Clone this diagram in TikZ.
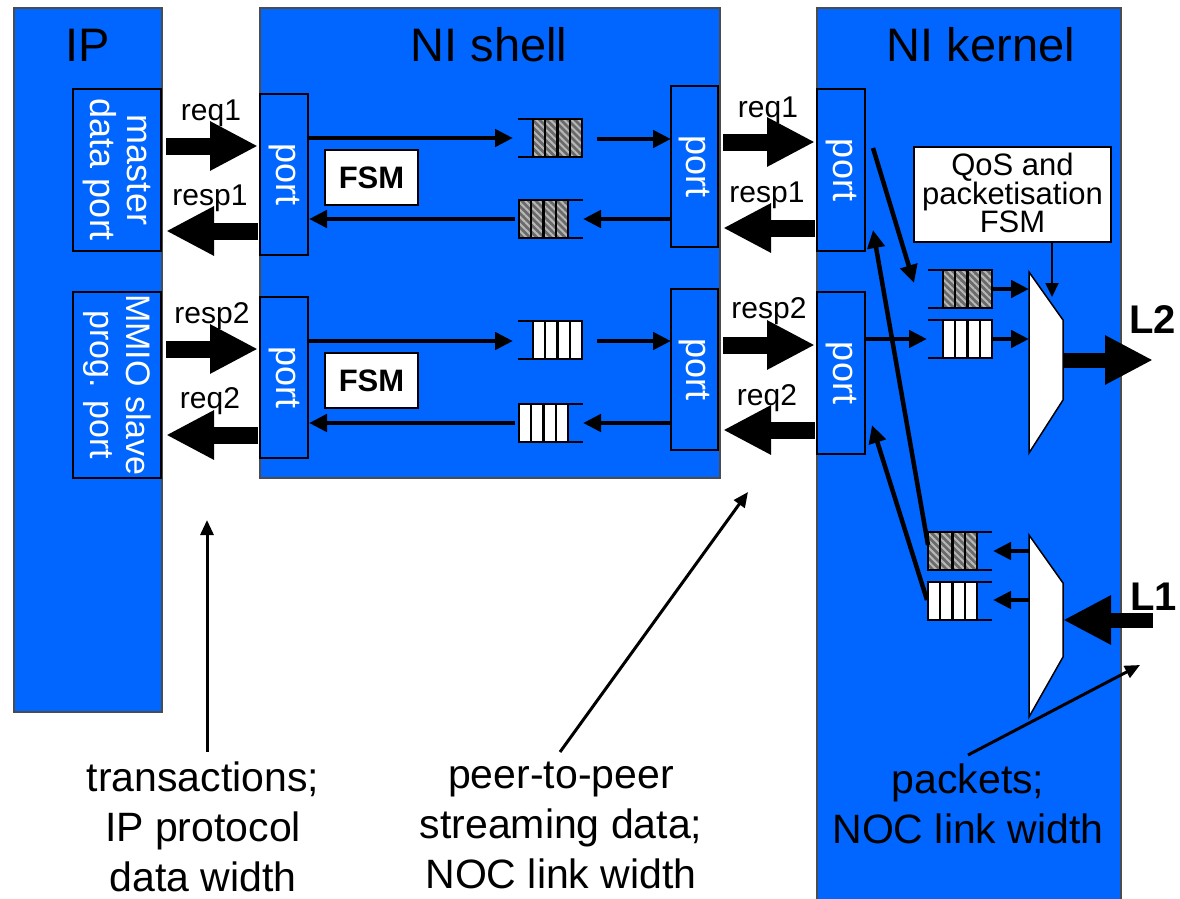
\documentclass[tikz,border=0pt]{standalone}
\usepackage{fontspec}
\setmainfont{Liberation Sans}
\usetikzlibrary{arrows.meta,patterns.meta,fit}
\definecolor{niblue}{HTML}{0066FF}
\definecolor{hatchbg}{HTML}{6A6A6A}
\definecolor{hatchfg}{HTML}{B8B8B8}
\newcommand\fsz[2]{\fontsize{#1}{#2}\selectfont}

\tikzset{
  pics/fifoin/.style={code={% FIFO with its open end on the left
    \path[#1] (0,0) rectangle (49,38);
    \draw[qline] (-15,0) -- (49,0) -- (49,38) -- (-15,38);
    \foreach \k in {0,1,2,3} \draw[qline] ({\k*12.25},0) -- ++(0,38);
  }},
  pics/fifoout/.style={code={% FIFO with its open end on the right
    \path[#1] (0,0) rectangle (49,38);
    \draw[qline] (64,0) -- (0,0) -- (0,38) -- (64,38);
    \foreach \k in {1,2,3,4} \draw[qline] ({\k*12.25},0) -- ++(0,38);
  }},
}

\begin{document}
\begin{tikzpicture}[x=1pt,y=-1pt,
  block/.style={draw=black!70, line width=1.5pt, fill=niblue, inner sep=0pt},
  portbox/.style={draw=black, line width=2pt, fill=niblue, inner sep=0pt},
  title/.style={font=\fsz{47}{54}, anchor=base, inner sep=0pt},
  portlbl/.style={font=\fsz{36}{37}, text=white, rotate=-90, align=center, inner sep=0pt},
  sig/.style={font=\fsz{30}{34}, anchor=base, inner sep=0pt},
  fsmbox/.style={draw=black, line width=2pt, fill=white, inner sep=0pt},
  fsmlbl/.style={font=\bfseries\fsz{31}{34}, inner sep=0pt},
  qoslbl/.style={font=\fsz{31}{28.5}, align=center, inner sep=0pt},
  note/.style={font=\fsz{41}{50}, align=center, anchor=north, inner sep=0pt},
  linklbl/.style={font=\bfseries\fsz{40}{44}, anchor=base west, inner sep=0pt},
  fat/.style={line width=17pt, -{Triangle[length=48pt,width=46pt]}},
  thinarrow/.style={line width=4.5pt, -{Triangle[length=18pt,width=17pt]}},
  ctrl/.style={line width=2pt, -{Triangle[length=14pt,width=13pt]}},
  pointer/.style={line width=3pt, -{Triangle[length=15pt,width=13pt]}},
  qline/.style={line width=2.2pt, draw=black},
  hatched/.style={fill=hatchbg, postaction={pattern={Lines[angle=-45,distance=5pt,line width=2pt]}, pattern color=hatchfg}},
  plain/.style={fill=white},
  mux/.style={draw=black, line width=1.5pt, fill=white},
]
\useasboundingbox (0,0) rectangle (1180,899);
\clip (0,0) rectangle (1180,899);

% ---- main blocks ----
\node[block, fit={(14,8) (162,712)}] (ip) {};
\node[block, fit={(260,8) (720,478)}] (shell) {};
\node[block, fit={(817,8) (1121,915)}] (kernel) {};

\node[title] (tip) at (88,62) {IP};
\node[title] (tshell) at (489,62) {NI shell};
\node[title] (tkernel) at (981,62) {NI kernel};

% ---- IP ports ----
\node[portbox, fit={(73,89) (161,251)}] (mdp) {};
\node[portlbl] (mdplbl) at (mdp.center) {master\\data port};
\node[portbox, fit={(73,292) (161,478)}] (mmio) {};
\node[portlbl, font=\fsz{34}{36}] (mmiolbl) at (mmio.center) {MMIO slave\\prog. port};

% ---- shell ports ----
\node[portbox, fit={(260,94) (308,255)}] (sp1) {};
\node[portlbl] (sp1lbl) at (sp1.center) {port};
\node[portbox, fit={(260,297) (308,458)}] (sp2) {};
\node[portlbl] (sp2lbl) at (sp2.center) {port};
\node[portbox, fit={(671,86) (718,247)}] (sp3) {};
\node[portlbl] (sp3lbl) at (sp3.center) {port};
\node[portbox, fit={(671,289) (718,450)}] (sp4) {};
\node[portlbl] (sp4lbl) at (sp4.center) {port};

% ---- kernel ports ----
\node[portbox, fit={(817,89) (865,251)}] (kp1) {};
\node[portlbl] (kp1lbl) at (kp1.center) {port};
\node[portbox, fit={(817,292) (865,454)}] (kp2) {};
\node[portlbl] (kp2lbl) at (kp2.center) {port};

% ---- FSMs ----
\node[fsmbox, fit={(325,150) (418,205)}] (fsm1) {};
\node[fsmlbl] (fsm1lbl) at (fsm1.center) {FSM};
\node[fsmbox, fit={(325,353) (418,408)}] (fsm2) {};
\node[fsmlbl] (fsm2lbl) at (fsm2.center) {FSM};
\node[fsmbox, fit={(914,147) (1111,242)}] (qos) {};
\node[qoslbl] (qoslbl) at (1012.5,193) {QoS and\\packetisation\\FSM};

% ---- FIFOs in the shell ----
\pic (q1f) at (533,119) {fifoin=hatched};
\pic (q1r) at (519,200) {fifoout=hatched};
\pic (q2f) at (533,321) {fifoin=plain};
\pic (q2r) at (519,404) {fifoout=plain};

% ---- FIFOs in the kernel ----
\pic (k1f) at (943,270) {fifoin=hatched};
\pic (k2f) at (943,320) {fifoin=plain};
\pic (k3r) at (928,532) {fifoout=hatched};
\pic (k4r) at (928,582) {fifoout=plain};

% ---- multiplexer / demultiplexer ----
\draw[mux] (1029,272) -- (1063,320) -- (1063,400) -- (1029,453) -- cycle;
\draw[mux] (1029,535) -- (1063,583) -- (1063,657) -- (1029,717) -- cycle;

% ---- connector end points ----
\coordinate (a1) at (166,146);  \coordinate (a2) at (258,146);
\coordinate (a3) at (258,231);  \coordinate (a4) at (166,231);
\coordinate (a5) at (166,349);  \coordinate (a6) at (258,349);
\coordinate (a7) at (258,435);  \coordinate (a8) at (166,435);
\coordinate (b1) at (723,142);  \coordinate (b2) at (815,142);
\coordinate (b3) at (815,228);  \coordinate (b4) at (723,228);
\coordinate (b5) at (723,345);  \coordinate (b6) at (815,345);
\coordinate (b7) at (815,430);  \coordinate (b8) at (723,430);

\coordinate (s1) at (308,138);  \coordinate (s2) at (513,138);
\coordinate (s3) at (597,139);  \coordinate (s4) at (671,139);
\coordinate (s5) at (671,219);  \coordinate (s6) at (583,219);
\coordinate (s7) at (515,219);  \coordinate (s8) at (309,219);
\coordinate (s9) at (308,341);  \coordinate (s10) at (513,341);
\coordinate (s11) at (597,341); \coordinate (s12) at (671,341);
\coordinate (s13) at (671,423); \coordinate (s14) at (583,423);
\coordinate (s15) at (515,423); \coordinate (s16) at (309,423);

\coordinate (k1) at (873,148);  \coordinate (k2) at (914,283);
\coordinate (k3) at (865,339);  \coordinate (k4) at (927,339);
\coordinate (k5) at (993,289);  \coordinate (k6) at (1029,289);
\coordinate (k7) at (993,339);  \coordinate (k8) at (1029,339);
\coordinate (k9) at (1029,551); \coordinate (k10) at (993,551);
\coordinate (k11) at (1029,600);\coordinate (k12) at (993,600);
\coordinate (k13) at (928,545); \coordinate (k14) at (873,230);
\coordinate (k15) at (927,600); \coordinate (k16) at (872,425);
\coordinate (qa) at (1052,242); \coordinate (qb) at (1052,297);

\coordinate (l2a) at (1063,360); \coordinate (l2b) at (1153,360);
\coordinate (l1a) at (1153,620); \coordinate (l1b) at (1063,620);

\coordinate (n1a) at (207,752); \coordinate (n1b) at (207,520);
\coordinate (n2a) at (560,752); \coordinate (n2b) at (748,492);
\coordinate (n3a) at (968,755); \coordinate (n3b) at (1140,665);

% ---- IP <-> shell ----
\draw[fat] (a1) -- (a2);
\draw[fat] (a3) -- (a4);
\draw[fat] (a5) -- (a6);
\draw[fat] (a7) -- (a8);
\node[sig] (l-req1a) at (211,120) {req1};
\node[sig] (l-resp1a) at (210,205) {resp1};
\node[sig] (l-resp2a) at (212,323) {resp2};
\node[sig] (l-req2a) at (210,408) {req2};

% ---- shell <-> kernel ----
\draw[fat] (b1) -- (b2);
\draw[fat] (b3) -- (b4);
\draw[fat] (b5) -- (b6);
\draw[fat] (b7) -- (b8);
\node[sig] (l-req1b) at (768,117) {req1};
\node[sig] (l-resp1b) at (767,202) {resp1};
\node[sig] (l-resp2b) at (769,318) {resp2};
\node[sig] (l-req2b) at (767,405) {req2};

% ---- shell data paths ----
\draw[thinarrow] (s1) -- (s2);
\draw[thinarrow] (s3) -- (s4);
\draw[thinarrow] (s5) -- (s6);
\draw[thinarrow] (s7) -- (s8);
\draw[thinarrow] (s9) -- (s10);
\draw[thinarrow] (s11) -- (s12);
\draw[thinarrow] (s13) -- (s14);
\draw[thinarrow] (s15) -- (s16);

% ---- kernel data paths ----
\draw[thinarrow] (k1) -- (k2);
\draw[thinarrow] (k3) -- (k4);
\draw[thinarrow] (k5) -- (k6);
\draw[thinarrow] (k7) -- (k8);
\draw[thinarrow] (k9) -- (k10);
\draw[thinarrow] (k11) -- (k12);
\draw[thinarrow] (k13) -- (k14);
\draw[thinarrow] (k15) -- (k16);
\draw[ctrl] (qa) -- (qb);

% ---- links ----
\draw[fat, line width=15pt] (l2a) -- (l2b);
\draw[fat, line width=15pt] (l1a) -- (l1b);
\node[linklbl] (tl2) at (1129,333) {L2};
\node[linklbl] (tl1) at (1130,610) {L1};

% ---- annotations ----
\draw[pointer] (n1a) -- (n1b);
\draw[pointer] (n2a) -- (n2b);
\draw[pointer] (n3a) -- (n3b);
\node[note] (nt1) at (203,762) {transactions;\\IP protocol\\data width};
\node[note] (nt2) at (561,762) {peer-to-peer\\streaming data;\\NOC link width};
\node[note] (nt3) at (968,764) {packets;\\NOC link width};
\end{tikzpicture}
\end{document}
